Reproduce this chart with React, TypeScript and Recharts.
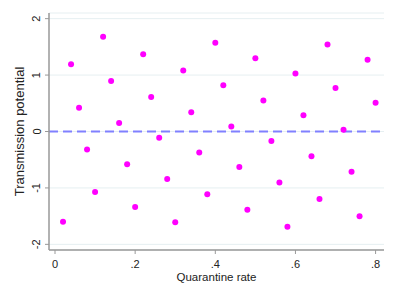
import React from 'react';
import { ScatterChart, Scatter, XAxis, YAxis, CartesianGrid, ReferenceLine } from 'recharts';

const quarantineRate = [
  0.02, 0.04, 0.06, 0.08, 0.1, 0.12, 0.14, 0.16, 0.18, 0.2,
  0.22, 0.24, 0.26, 0.28, 0.3, 0.32, 0.34, 0.36, 0.38, 0.4,
  0.42, 0.44, 0.46, 0.48, 0.5, 0.52, 0.54, 0.56, 0.58, 0.6,
  0.62, 0.64, 0.66, 0.68, 0.7, 0.72, 0.74, 0.76, 0.78, 0.8,
];
const transmissionPotential = [
  -1.6, 1.19, 0.42, -0.32, -1.07, 1.68, 0.895, 0.15, -0.58, -1.34,
  1.37, 0.61, -0.11, -0.84, -1.61, 1.08, 0.34, -0.37, -1.11, 1.575,
  0.82, 0.09, -0.63, -1.385, 1.3, 0.55, -0.17, -0.905, -1.69, 1.03,
  0.29, -0.44, -1.195, 1.54, 0.77, 0.03, -0.715, -1.5, 1.27, 0.51,
];
const xTicks = [0, 0.2, 0.4, 0.6, 0.8];
const xTickLabels = ['0', '.2', '.4', '.6', '.8'];
const yTicks = [-2, -1, 0, 1, 2];
const yTickLabels = ['-2', '-1', '0', '1', '2'];

const data = quarantineRate.map((x, i) => ({ x, y: transmissionPotential[i] }));

const FONT = '"Liberation Sans", Arial, sans-serif';

const XTick = (props: any) => {
  const { x, payload } = props;
  const idx = xTicks.indexOf(payload.value);
  return (
    <text x={x} y={268} textAnchor="middle" fontFamily={FONT} fontSize={11} fill="#222">
      {idx >= 0 ? xTickLabels[idx] : payload.value}
    </text>
  );
};

const YTick = (props: any) => {
  const { y, payload } = props;
  const idx = yTicks.indexOf(payload.value);
  const bx = 40.5;
  return (
    <text x={bx} y={y} transform={`rotate(-90, ${bx}, ${y})`} textAnchor="middle" fontFamily={FONT} fontSize={11} fill="#222">
      {idx >= 0 ? yTickLabels[idx] : payload.value}
    </text>
  );
};

const XLabel = (props: any) => {
  const vb = props.viewBox || { x: 49, width: 335 };
  return (
    <text x={vb.x + vb.width / 2} y={281} textAnchor="middle" fontFamily={FONT} fontSize={11.5} fill="#222">
      Quarantine rate
    </text>
  );
};

const YLabel = (props: any) => {
  const vb = props.viewBox || { y: 13, height: 237 };
  const cy = vb.y + vb.height / 2;
  const bx = 24;
  return (
    <text x={bx} y={cy} transform={`rotate(-90, ${bx}, ${cy})`} textAnchor="middle" fontFamily={FONT} fontSize={13} fill="#222">
      Transmission potential
    </text>
  );
};

const Dot = (props: any) => {
  const { cx, cy } = props;
  return <circle cx={cx} cy={cy} r={3} fill="#ff00ff" />;
};

export default function App() {
  return (
    <div style={{ position: 'absolute', left: 0, top: 0, width: 396, height: 291, background: '#fff' }}>
      <ScatterChart width={396} height={291} margin={{ top: 13, right: 12, bottom: 0, left: 0 }}>
        <CartesianGrid horizontal vertical={false} stroke="#e6eff1" strokeWidth={1} />
        <XAxis
          type="number"
          dataKey="x"
          domain={[-0.015, 0.821]}
          ticks={xTicks}
          height={41}
          tick={<XTick />}
          tickSize={4}
          axisLine={{ stroke: '#999', strokeWidth: 1.5 }}
          tickLine={{ stroke: '#999', strokeWidth: 1 }}
          label={<XLabel />}
          allowDataOverflow
        />
        <YAxis
          type="number"
          dataKey="y"
          domain={[-2.1, 2.1]}
          ticks={yTicks}
          width={49}
          tick={<YTick />}
          tickSize={4}
          axisLine={{ stroke: '#999', strokeWidth: 1.5 }}
          tickLine={{ stroke: '#999', strokeWidth: 1 }}
          label={<YLabel />}
          allowDataOverflow
        />
        <ReferenceLine y={0} stroke="#8080ff" strokeWidth={2} strokeDasharray="9 5" />
        <Scatter data={data} fill="#ff00ff" shape={<Dot />} isAnimationActive={false} />
      </ScatterChart>
    </div>
  );
}
